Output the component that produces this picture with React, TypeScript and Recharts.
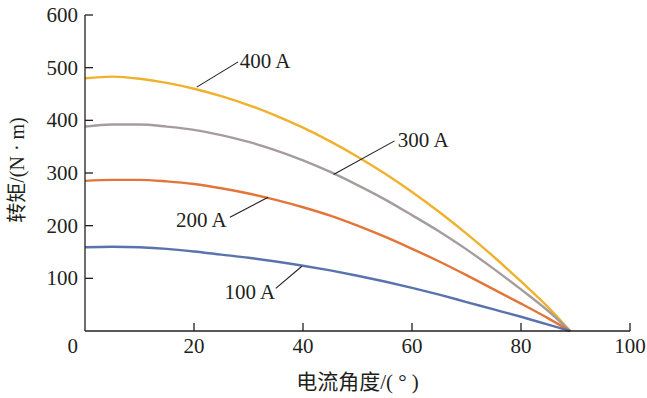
import React from "react";
import {
  LineChart,
  Line,
  XAxis,
  YAxis,
  ReferenceLine,
  ReferenceDot,
} from "recharts";

// current angle (deg)
const angles = [0, 5, 10, 15, 20, 25, 30, 35, 40, 45, 50, 55, 60, 65, 70, 75, 80, 85, 89];

// torque (N·m) for each phase current
const t400 = [480, 483, 479, 471, 460, 446, 429, 409, 386, 360, 331, 299, 264, 226, 185, 141, 94, 45, 0];
const t300 = [388, 392, 392, 388, 382, 372, 359, 343, 324, 302, 277, 250, 220, 189, 155, 118, 79, 38, 0];
const t200 = [285, 287, 287, 284, 279, 271, 261, 249, 235, 219, 200, 179, 156, 132, 106, 79, 52, 24, 0];
const t100 = [159, 160, 159, 156, 151, 145, 139, 132, 124, 115, 105, 94, 82, 69, 55, 41, 27, 12, 0];

const seriesNames = ["400 A", "300 A", "200 A", "100 A"];
const seriesKeys = ["a400", "a300", "a200", "a100"];
const colors = ["#EFB12E", "#A49D9B", "#E3743A", "#5A72AE"];

const xTicks = [0, 20, 40, 60, 80, 100];
const yTicks = [100, 200, 300, 400, 500, 600];

// callout leader lines: [curve point, label point] in data units
const calloutFrom = [
  { x: 20.5, y: 463 },
  { x: 45.6, y: 297 },
  { x: 33.6, y: 254 },
  { x: 39.8, y: 123 },
];
const calloutTo = [
  { x: 28.1, y: 511 },
  { x: 56.8, y: 361 },
  { x: 26.6, y: 216 },
  { x: 35.0, y: 81 },
];
const calloutText = [
  { x: 28.4, y: 512 },
  { x: 57.4, y: 362 },
  { x: 26.0, y: 211 },
  { x: 34.9, y: 74 },
];
const calloutSide = ["start", "start", "end", "end"];

const data = angles.map((a, i) => ({
  angle: a,
  a400: t400[i],
  a300: t300[i],
  a200: t200[i],
  a100: t100[i],
}));

const FONT = "'Times New Roman', 'Liberation Serif', 'DejaVu Serif', serif, 'Noto Sans CJK SC'";
const INK = "#231F20";
const txt = { fontFamily: FONT };

const XTick = (props: any) => {
  const { x, y, payload } = props;
  const zero = payload.value === 0;
  return (
    <g>
      {!zero ? (
        <line x1={x} y1={y} x2={x} y2={y - 8} stroke={INK} strokeWidth={1.3} />
      ) : null}
      <text
        x={zero ? x - 7 : x}
        y={y + 22}
        textAnchor={zero ? "end" : "middle"}
        style={txt}
        fontSize={21}
        fill={INK}
      >
        {payload.value}
      </text>
    </g>
  );
};

const YTick = (props: any) => {
  const { x, y, payload } = props;
  return (
    <g>
      <line x1={x} y1={y} x2={x + 8} y2={y} stroke={INK} strokeWidth={1.3} />
      <text x={x - 7} y={y + 7} textAnchor="end" style={txt} fontSize={21} fill={INK}>
        {payload.value}
      </text>
    </g>
  );
};

const YTitle = (props: any) => {
  const vb = props.viewBox;
  const cx = vb.x + 17;
  const cy = vb.y + vb.height / 2 - 3;
  return (
    <text
      x={cx}
      y={cy}
      transform={`rotate(-90, ${cx}, ${cy})`}
      textAnchor="middle"
      dominantBaseline="central"
      style={txt}
      fontSize={20}
      fill={INK}
    >
      转矩/(N · m)
    </text>
  );
};

const XTitle = (props: any) => {
  const vb = props.viewBox;
  return (
    <text
      x={vb.x + vb.width / 2}
      y={vb.y + 58}
      textAnchor="middle"
      style={txt}
      fontSize={21}
      fill={INK}
    >
      电流角度/( ° )
    </text>
  );
};

export default function App() {
  return (
    <div
      style={{
        position: "absolute",
        left: 0,
        top: 0,
        width: 647,
        height: 398,
        background: "#fff",
      }}
    >
      <LineChart
        width={647}
        height={398}
        data={data}
        margin={{ top: 15, right: 17, left: 0, bottom: 0 }}
      >
        <XAxis
          dataKey="angle"
          type="number"
          domain={[0, 100]}
          ticks={xTicks}
          height={67}
          tickSize={0}
          tickMargin={0}
          tickLine={false}
          axisLine={{ stroke: INK, strokeWidth: 1.3 }}
          tick={<XTick />}
          interval={0}
          label={<XTitle />}
        />
        <YAxis
          type="number"
          domain={[0, 600]}
          ticks={yTicks}
          width={85}
          tickSize={0}
          tickMargin={0}
          tickLine={false}
          axisLine={{ stroke: INK, strokeWidth: 1.3 }}
          tick={<YTick />}
          interval={0}
          label={<YTitle />}
        />
        {seriesKeys.map((k, i) => (
          <Line
            key={k}
            dataKey={k}
            name={seriesNames[i]}
            type="monotone"
            stroke={colors[i]}
            strokeWidth={2.4}
            dot={false}
            activeDot={false}
            isAnimationActive={false}
          />
        ))}
        {seriesNames.map((n, i) => (
          <ReferenceLine
            key={"l" + n}
            segment={[calloutFrom[i], calloutTo[i]]}
            stroke={INK}
            strokeWidth={1.1}
          />
        ))}
        {seriesNames.map((n, i) => (
          <ReferenceDot
            key={"t" + n}
            x={calloutText[i].x}
            y={calloutText[i].y}
            r={1}
            shape={(p: any) => (
              <text
                x={p.cx}
                y={p.cy + 7}
                textAnchor={calloutSide[i]}
                style={txt}
                fontSize={21}
                fill={INK}
              >
                {n}
              </text>
            )}
          />
        ))}
      </LineChart>
    </div>
  );
}
